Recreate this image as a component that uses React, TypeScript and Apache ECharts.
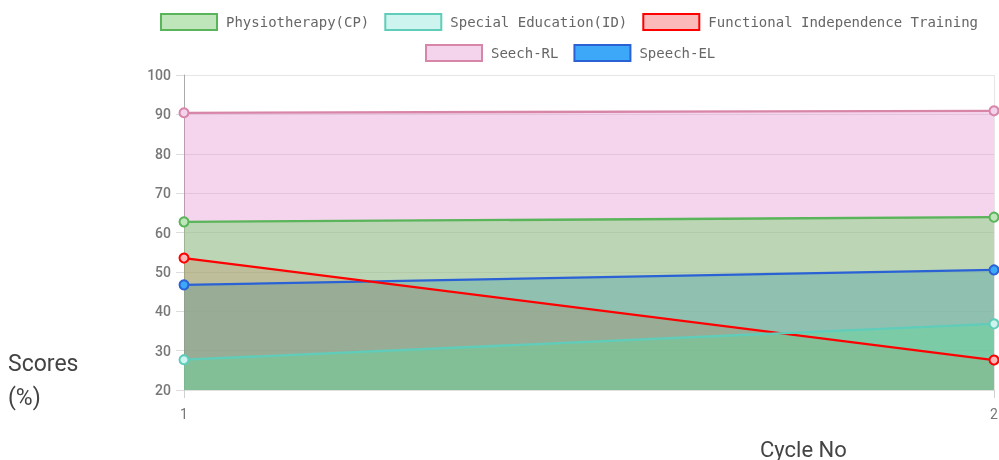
import React, { useEffect, useRef } from "react";
import * as echarts from "echarts";

const categories = ["1", "2"];
const seriesNames = [
  "Physiotherapy(CP)",
  "Special Education(ID)",
  "Functional Independence Training",
  "Seech-RL",
  "Speech-EL",
];
const physio = [62.7, 63.9];
const specialEd = [27.7, 36.8];
const functional = [53.5, 27.6];
const seechRL = [90.4, 90.9];
const speechEL = [46.7, 50.5];
const yTicks = { min: 20, max: 100, interval: 10 };

const lineColors = ["#5ab45a", "#5fcdba", "#ff0000", "#d886a8", "#2a62d6"];
const fillColors = [
  "rgba(120,212,110,0.45)",
  "rgba(70,225,190,0.38)",
  "rgba(255,0,0,0.2)",
  "rgba(225,125,200,0.32)",
  "rgba(54,162,235,0.6)",
];
const pointFills = ["#bfe6ba", "#cdf4ee", "#fbb9b9", "#f4d4ec", "#3ea8f8"];

export default function App() {
  const ref = useRef<HTMLDivElement>(null);
  useEffect(() => {
    if (!ref.current) return;
    const chart = echarts.init(ref.current, undefined, { renderer: "svg" });
    const values = [physio, specialEd, functional, seechRL, speechEL];
    // draw order: last dataset at bottom, first on top
    const order = [4, 3, 2, 1, 0];
    const areaSeries = order.map((i) => ({
      name: seriesNames[i],
      type: "line",
      data: values[i],
      z: 2,
      silent: true,
      showSymbol: false,
      symbol: "none",
      lineStyle: { width: 0, opacity: 0 },
      areaStyle: { color: fillColors[i], opacity: 1, origin: "start" },
    }));
    const lineSeries = order.map((i) => ({
      name: seriesNames[i],
      type: "line",
      data: values[i],
      z: 3,
      symbol: "circle",
      symbolSize: 9,
      showSymbol: true,
      lineStyle: { width: 2.3, color: lineColors[i] },
      itemStyle: { color: pointFills[i], borderColor: lineColors[i], borderWidth: 2 },
    }));
    const legendItem = (i: number) => ({
      name: seriesNames[i],
      icon: "rect",
      itemStyle: { color: pointFills[i], borderColor: lineColors[i], borderWidth: 2 },
    });
    const legendText = {
      fontFamily: "DejaVu Sans Mono",
      fontSize: 14,
      color: "#666",
      padding: [0, 0, 0, 4],
    };
    chart.setOption({
      animation: false,
      grid: { left: 184, right: 5, top: 75, bottom: 70, outerBoundsMode: "none", containLabel: false },
      legend: [
        {
          left: 160,
          top: 13,
          padding: 0,
          itemWidth: 56,
          itemHeight: 16,
          itemGap: 15,
          textStyle: legendText,
          data: [0, 1, 2].map(legendItem),
        },
        {
          left: 425,
          top: 44,
          padding: 0,
          itemWidth: 56,
          itemHeight: 16,
          itemGap: 15,
          textStyle: legendText,
          data: [3, 4].map(legendItem),
        },
      ],
      xAxis: {
        type: "category",
        data: categories,
        boundaryGap: false,
        axisLine: { show: true, lineStyle: { color: "#e0e0e0", width: 1 } },
        axisTick: { show: true, length: 8, lineStyle: { color: "#d0d0d0" } },
        splitLine: { show: true, lineStyle: { color: "#e6e6e6" } },
        axisLabel: { color: "#777", fontSize: 14, fontFamily: "Roboto", margin: 17 },
      },
      yAxis: {
        type: "value",
        min: yTicks.min,
        max: yTicks.max,
        interval: yTicks.interval,
        axisLine: { show: true, lineStyle: { color: "#aaa" } },
        axisTick: { show: true, length: 8, lineStyle: { color: "#ddd" } },
        splitLine: { show: true, lineStyle: { color: "#e6e6e6" } },
        axisLabel: { color: "#777", fontSize: 14, fontFamily: "Roboto", fontWeight: 500, margin: 13 },
      },
      graphic: [
        {
          type: "text",
          x: 8,
          y: 363,
          style: { text: "Scores", fontSize: 23, fontFamily: "Roboto", fill: "#444", verticalAlign: "middle", textVerticalAlign: "middle" },
        },
        {
          type: "text",
          x: 8,
          y: 397,
          style: { text: "(%)", fontSize: 23, fontFamily: "Roboto", fill: "#444", verticalAlign: "middle", textVerticalAlign: "middle" },
        },
        {
          type: "text",
          x: 760,
          y: 449,
          style: { text: "Cycle No", fontSize: 22, fontFamily: "Roboto", fill: "#444", verticalAlign: "middle", textVerticalAlign: "middle" },
        },
      ],
      series: [...areaSeries, ...lineSeries],
    });
    return () => chart.dispose();
  }, []);
  return <div ref={ref} style={{ position: "fixed", left: 0, top: 0, width: 999, height: 460 }} />;
}
